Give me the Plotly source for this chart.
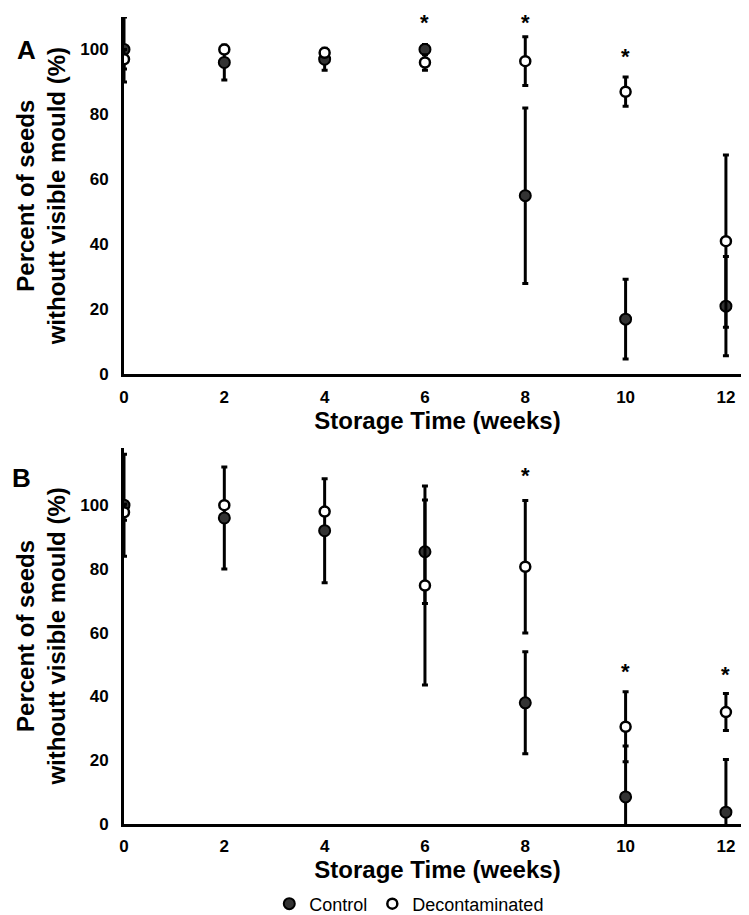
import plotly.graph_objects as go
from plotly.subplots import make_subplots

weeks = [0, 2, 4, 6, 8, 10, 12]

# Panel A
a_control = [100, 96, 97, 100, 55, 17, 21]
a_control_err = [10, 5.4, 3.4, 1.5, 27, 12.3, 15.3]
a_decon = [97, 100, 99, 96, 96.4, 87, 41]
a_decon_err = [3, 1, 1, 2.4, 7.5, 4.5, 26.5]
a_sig_weeks = [6, 8, 10]
a_sig_y = [109.9, 109.9, 99.5]

# Panel B
b_control = [100, 96, 92, 85.4, 38, 8.5, 3.7]
b_control_err = [16, 16, 16.3, 16.2, 16, 16, 16.5]
b_decon = [97.8, 100, 98, 74.8, 80.7, 30.5, 35.1]
b_decon_err = [2.5, 1, 1, 31.2, 20.8, 11, 5.8]
b_sig_weeks = [8, 10, 12]
b_sig_y = [111, 49.5, 48.5]

y_ticks = [0, 20, 40, 60, 80, 100]
FONT = "Liberation Sans, Arial, sans-serif"

fig = make_subplots(rows=2, cols=1, vertical_spacing=0.09)


def add_panel(row, control, control_err, decon, decon_err, show_legend):
    fig.add_trace(go.Scatter(
        x=weeks, y=control, mode="markers", name="Control",
        showlegend=show_legend,
        marker=dict(size=11, color="#333333", line=dict(color="black", width=2)),
        error_y=dict(type="data", array=control_err, color="black", thickness=3, width=3),
    ), row=row, col=1)
    fig.add_trace(go.Scatter(
        x=weeks, y=decon, mode="markers", name="Decontaminated",
        showlegend=show_legend,
        marker=dict(size=10, color="white", line=dict(color="black", width=2.5)),
        error_y=dict(type="data", array=decon_err, color="black", thickness=3, width=3),
    ), row=row, col=1)


add_panel(1, a_control, a_control_err, a_decon, a_decon_err, True)
add_panel(2, b_control, b_control_err, b_decon, b_decon_err, False)

# significance stars (y = centre of the star glyph)
for sig_x, sig_y, xr, yr in [(a_sig_weeks, a_sig_y, "x", "y"), (b_sig_weeks, b_sig_y, "x2", "y2")]:
    for sx, sy in zip(sig_x, sig_y):
        fig.add_annotation(x=sx, y=sy, xref=xr, yref=yr, text="<b>*</b>", showarrow=False,
                           font=dict(size=22, color="black", family=FONT),
                           yanchor="top", yshift=9)

# panel letters
fig.add_annotation(x=-0.156, y=0.949, xref="paper", yref="paper", text="<b>A</b>", showarrow=False,
                   xanchor="center", yanchor="middle",
                   font=dict(size=26, color="black", family=FONT))
fig.add_annotation(x=-0.164, y=0.4235, xref="paper", yref="paper", text="<b>B</b>", showarrow=False,
                   xanchor="center", yanchor="middle",
                   font=dict(size=26, color="black", family=FONT))

axis_common = dict(
    showline=True, linecolor="black", linewidth=3, showgrid=False, zeroline=False,
    ticks="", automargin=False,
    tickfont=dict(size=17, color="black", family=FONT, weight="bold"),
)

for r in (1, 2):
    fig.update_xaxes(range=[0, 12.5], tickvals=weeks, ticklabelstandoff=5,
                     title=dict(text="<b>Storage Time (weeks)</b>", standoff=0,
                                font=dict(size=24, color="black", family=FONT)),
                     **axis_common, row=r, col=1)
    fig.update_yaxes(tickvals=y_ticks, ticklabelstandoff=9,
                     title=dict(text="<b>Percent of seeds<br>withoutt visible mould (%)</b>", standoff=8,
                                font=dict(size=24, color="black", family=FONT)),
                     **axis_common, row=r, col=1)

fig.update_yaxes(range=[0, 110], domain=[0.551, 0.989], row=1, col=1)
fig.update_yaxes(range=[0, 118], domain=[0, 0.461], row=2, col=1)

fig.update_layout(
    width=749, height=915,
    margin=dict(l=116, r=6, t=0, b=91),
    paper_bgcolor="white", plot_bgcolor="white",
    font=dict(family=FONT, color="black"),
    legend=dict(orientation="h", x=0.455, y=-0.098, xanchor="center", yanchor="middle",
                font=dict(size=18, color="black", family=FONT), itemwidth=30),
)

fig.write_html("out.html")
